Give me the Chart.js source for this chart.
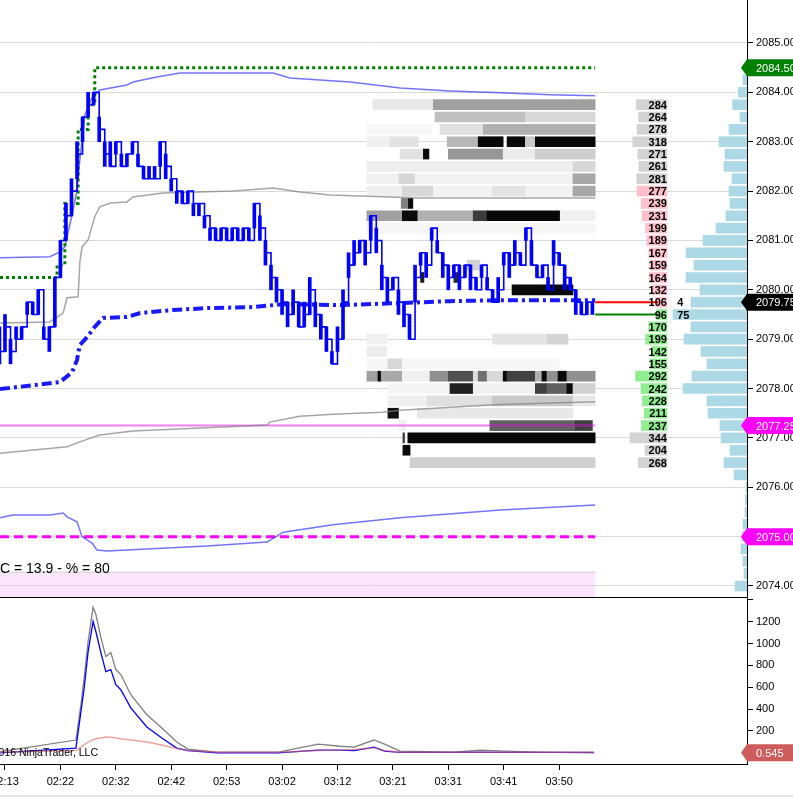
<!DOCTYPE html>
<html lang="en">
<head>
  <meta charset="UTF-8">
  <title>ES tick chart – order flow</title>
  <script src="https://cdn.jsdelivr.net/npm/chart.js"></script>
  <style>
    html, body {
      margin: 0;
      padding: 0;
      background: #fff;
      overflow: hidden;
    }
    body {
      position: relative;
      width: 793px;
      height: 797px;
      font-family: Arial, "Liberation Sans", sans-serif;
    }
    #mainBox { position: absolute; left: 0; top: 0; width: 793px; height: 597px; }
    #lowBox { position: absolute; left: 0; top: 597px; width: 793px; height: 200px; }
    #scroll { position: absolute; left: 0; top: 795px; width: 793px; height: 2px; background: #e4e4e4; }
  </style>
</head>
<body>
<div id="mainBox"><canvas id="mainChart" width="793" height="597"></canvas></div>
<div id="lowBox"><canvas id="lowChart" width="793" height="200"></canvas></div>
<div id="scroll"></div>

<script>
  // time axis: one slot per bar group, labels every 10 slots
  const timeLabels = ['02:13', '02:22', '02:32', '02:42', '02:53', '03:02', '03:12', '03:21', '03:31', '03:41', '03:50'];
  const X_MIN = -0.9, X_MAX = 133.9;

  // last price per slot, slot -1 .. 106
  const priceBars = [
    2078.75, 2079.25, 2078.75, 2079.0, 2079.25, 2079.75, 2079.5, 2080.0, 2079.0, 2079.25,
    2080.25, 2081.0, 2081.5, 2082.0, 2082.75, 2083.5, 2083.75, 2084.0, 2083.25, 2082.75,
    2082.5, 2083.0, 2082.5, 2082.75, 2083.0, 2082.5, 2082.25, 2082.25, 2082.25, 2083.0,
    2082.5, 2082.25, 2082.0, 2081.75, 2082.0, 2081.75, 2081.75, 2081.5, 2081.25, 2081.0,
    2081.25, 2081.0, 2081.25, 2081.0, 2081.25, 2081.0, 2081.75, 2081.25, 2080.75, 2080.25,
    2080.0, 2079.75, 2079.5, 2079.75, 2079.25, 2079.5, 2080.0, 2079.5, 2079.25, 2079.0,
    2078.5, 2079.0, 2079.75, 2080.5, 2080.75, 2081.0, 2080.75, 2081.5, 2081.0, 2080.25,
    2080.0, 2080.25, 2079.75, 2079.5, 2079.0, 2080.25, 2080.75, 2080.5, 2081.25, 2080.75,
    2080.5, 2080.25, 2080.5, 2080.25, 2080.5, 2080.25, 2080.0, 2080.5, 2080.0, 2079.75,
    2080.0, 2080.75, 2080.5, 2080.75, 2080.5, 2081.25, 2080.5, 2080.25, 2080.5, 2080.0,
    2080.75, 2080.5, 2080.25, 2080.0, 2079.75, 2079.5, 2079.75, 2079.75
  ];
  // traded range per slot
  const priceLow = [
    2078.5, 2078.75, 2078.5, 2079.0, 2079.0, 2079.5, 2079.5, 2079.5, 2079.0, 2078.75,
    2079.25, 2080.25, 2081.0, 2081.5, 2082.25, 2083.0, 2083.5, 2083.75, 2083.0, 2082.5,
    2082.5, 2082.75, 2082.5, 2082.5, 2082.75, 2082.5, 2082.25, 2082.25, 2082.25, 2082.5,
    2082.25, 2082.0, 2081.75, 2081.75, 2081.75, 2081.5, 2081.5, 2081.25, 2081.0, 2081.0,
    2081.0, 2081.0, 2081.0, 2081.0, 2081.0, 2081.0, 2081.25, 2081.0, 2080.5, 2080.0,
    2079.75, 2079.5, 2079.25, 2079.5, 2079.25, 2079.25, 2079.5, 2079.25, 2079.0, 2078.75,
    2078.5, 2078.75, 2079.0, 2080.25, 2080.5, 2080.75, 2080.5, 2081.0, 2080.75, 2080.0,
    2079.75, 2080.0, 2079.5, 2079.25, 2079.0, 2079.75, 2080.5, 2080.25, 2081.0, 2080.75,
    2080.25, 2080.0, 2080.25, 2080.0, 2080.25, 2080.0, 2080.0, 2080.25, 2080.0, 2079.75,
    2079.75, 2080.5, 2080.25, 2080.5, 2080.5, 2081.0, 2080.5, 2080.25, 2080.25, 2080.0,
    2080.5, 2080.5, 2080.0, 2080.0, 2079.5, 2079.5, 2079.5, 2079.5
  ];
  const priceHigh = [
    2079.25, 2079.5, 2079.0, 2079.25, 2079.25, 2079.75, 2079.75, 2080.0, 2079.25, 2079.25,
    2080.25, 2081.0, 2081.75, 2082.25, 2083.0, 2083.5, 2084.0, 2084.0, 2083.5, 2083.0,
    2083.0, 2083.0, 2082.75, 2082.75, 2083.0, 2082.75, 2082.5, 2082.5, 2082.5, 2083.0,
    2082.75, 2082.25, 2082.0, 2082.0, 2082.0, 2081.75, 2081.75, 2081.5, 2081.25, 2081.25,
    2081.25, 2081.25, 2081.25, 2081.25, 2081.25, 2081.25, 2081.75, 2081.5, 2081.0, 2080.5,
    2080.25, 2080.0, 2079.75, 2080.0, 2079.75, 2079.75, 2080.25, 2079.75, 2079.5, 2079.25,
    2078.75, 2079.25, 2080.0, 2080.75, 2081.0, 2081.0, 2081.0, 2081.5, 2081.25, 2080.5,
    2080.25, 2080.25, 2080.0, 2079.75, 2079.5, 2080.5, 2080.75, 2080.75, 2081.25, 2081.0,
    2080.75, 2080.5, 2080.5, 2080.5, 2080.5, 2080.5, 2080.25, 2080.5, 2080.25, 2080.0,
    2080.25, 2080.75, 2080.75, 2081.0, 2080.75, 2081.25, 2081.0, 2080.5, 2080.5, 2080.25,
    2081.0, 2080.75, 2080.5, 2080.25, 2080.0, 2079.75, 2079.75, 2079.75
  ];

  // session high stop line (green dotted)
  const highSlots = [-0.9, 9.4, 10.8, 13.2, 15.0, 16.2, 106.5];
  const highVals  = [2080.25, 2080.5, 2081.75, 2083.25, 2083.75, 2084.5, 2084.5];

  // VWAP (blue dash-dot)
  const vwapSlots = [-0.9, 9.9, 10.8, 12.1, 13.0, 13.5, 14.8, 16.2, 17.7, 22.0, 24.4, 30.3, 36.5, 44.8, 50.2, 61.0, 70.8, 80.3, 89.4, 106.5];
  const vwapVals  = [2077.99, 2078.13, 2078.21, 2078.33, 2078.58, 2078.88, 2079.04, 2079.25, 2079.43, 2079.45, 2079.53, 2079.59, 2079.63, 2079.65, 2079.71, 2079.69, 2079.73, 2079.77, 2079.79, 2079.79];

  // outer bands (blue, translucent)
  const upBlueSlots = [-0.9, 8.1, 9.9, 10.8, 11.2, 12.1, 13.0, 13.5, 14.4, 15.7, 17.1, 22.0, 23.1, 27.4, 31.6, 48.4, 51.4, 62.3, 71.3, 80.3, 89.4, 98.4, 106.5];
  const upBlueVals  = [2080.65, 2080.67, 2080.77, 2080.87, 2081.07, 2081.52, 2082.02, 2082.63, 2083.54, 2083.89, 2084.05, 2084.15, 2084.21, 2084.31, 2084.39, 2084.39, 2084.29, 2084.21, 2084.09, 2084.03, 2083.99, 2083.95, 2083.93];
  const loBlueSlots = [-0.9, 1.4, 8.1, 10.5, 11.2, 13.0, 13.9, 15.7, 16.6, 18.4, 29.2, 36.5, 47.3, 50.2, 59.2, 71.3, 89.4, 106.5];
  const loBlueVals  = [2075.38, 2075.44, 2075.44, 2075.48, 2075.40, 2075.30, 2075.00, 2074.87, 2074.73, 2074.71, 2074.77, 2074.81, 2074.89, 2075.09, 2075.24, 2075.38, 2075.54, 2075.64];

  // inner bands (gray)
  const upGraySlots = [-0.9, 8.1, 10.5, 11.2, 13.2, 13.5, 13.9, 15.0, 16.2, 17.1, 19.0, 22.0, 23.1, 28.5, 41.2, 48.4, 53.2, 58.7, 69.5, 74.9, 106.5];
  const upGrayVals  = [2079.33, 2079.35, 2079.53, 2079.84, 2079.86, 2080.55, 2080.87, 2081.01, 2081.48, 2081.68, 2081.76, 2081.78, 2081.88, 2081.96, 2082.0, 2082.06, 2081.98, 2081.92, 2081.88, 2081.86, 2081.86];
  const loGraySlots = [-0.9, 11.2, 13.5, 17.1, 23.1, 35.2, 47.3, 47.8, 53.2, 59.2, 68.2, 71.3, 82.1, 88.1, 100.2, 106.5];
  const loGrayVals  = [2076.69, 2076.82, 2076.92, 2077.06, 2077.14, 2077.20, 2077.26, 2077.32, 2077.44, 2077.48, 2077.52, 2077.56, 2077.63, 2077.67, 2077.71, 2077.73];

  // horizontal levels
  const levelPrice = 2077.25;
  const targetPrice = 2075.0;
  const zoneTop = 2074.28;
  const askPrice = 2079.75, bidPrice = 2079.5;
  const insideSizes = [4, 75];
  const studyText = 'C = 13.9 - % = 80';

  // order book history cells: price, from slot, to slot, gray shade
  const heatPrice = [
    2083.75, 2083.75,
    2083.5, 2083.5,
    2083.25, 2083.25, 2083.25,
    2083.0, 2083.0, 2083.0, 2083.0, 2083.0, 2083.0, 2083.0,
    2082.75, 2082.75, 2082.75, 2082.75, 2082.75,
    2082.5, 2082.5,
    2082.25, 2082.25, 2082.25, 2082.25,
    2082.0, 2082.0, 2082.0, 2082.0, 2082.0, 2082.0,
    2081.75, 2081.75,
    2081.5, 2081.5, 2081.5, 2081.5, 2081.5, 2081.5,
    2081.25,
    2080.5,
    2080.25, 2080.25,
    2080.0,
    2079.0, 2079.0, 2079.0,
    2078.75,
    2078.5, 2078.5, 2078.5,
    2078.25, 2078.25, 2078.25, 2078.25, 2078.25, 2078.25, 2078.25, 2078.25,
    2078.25, 2078.25, 2078.25, 2078.25, 2078.25, 2078.25, 2078.25, 2078.25,
    2078.0, 2078.0, 2078.0, 2078.0, 2078.0, 2078.0, 2078.0,
    2077.75, 2077.75, 2077.75, 2077.75,
    2077.5, 2077.5,
    2077.25, 2077.25, 2077.25,
    2077.0, 2077.0,
    2076.75,
    2076.5
  ];
  const heatFrom = [
    66.4, 77.3,
    77.6, 93.9,
    65.3, 78.5, 86.3,
    65.3, 69.5, 79.8, 85.4, 90.6, 93.9, 95.7,
    71.3, 75.5, 80.0, 89.9, 95.7,
    65.3, 102.5,
    65.3, 71.1, 74.0, 102.5,
    65.3, 71.7, 77.3, 87.9, 94.0, 102.5,
    71.5, 72.8,
    65.3, 71.7, 74.5, 84.5, 87.0, 100.2,
    65.3,
    83.4,
    75.0, 81.0,
    91.5,
    65.3, 88.0, 97.8,
    65.3,
    65.3, 69.1, 71.7,
    65.3, 67.3, 67.9, 71.7, 76.7, 80.0, 84.5, 85.4,
    87.0, 89.9, 90.6, 95.7, 96.9, 97.8, 99.8, 101.4,
    69.1, 80.3, 84.5, 95.7, 97.8, 101.4, 102.5,
    69.1, 76.2, 87.9, 102.5,
    69.1, 74.4,
    71.1, 87.5, 102.9,
    71.8, 72.7,
    71.8,
    73.1
  ];
  const heatTo = [
    77.3, 106.5,
    93.9, 106.5,
    77.0, 86.3, 106.5,
    69.5, 74.6, 85.4, 89.9, 93.9, 95.7, 106.5,
    75.5, 76.5, 89.9, 95.7, 106.5,
    102.5, 106.5,
    71.1, 74.0, 102.5, 106.5,
    71.7, 77.3, 87.9, 94.0, 102.5, 106.5,
    72.8, 73.6,
    71.7, 74.5, 84.5, 87.0, 100.2, 106.5,
    106.5,
    85.7,
    75.6, 81.8,
    102.5,
    69.0, 97.8, 101.6,
    68.9,
    69.1, 71.7, 100.0,
    67.3, 67.9, 71.7, 76.7, 80.0, 84.5, 85.4, 87.0,
    89.9, 90.6, 95.7, 96.9, 97.8, 99.8, 101.4, 106.5,
    80.3, 84.5, 95.7, 97.8, 101.4, 102.5, 106.5,
    76.2, 87.9, 102.5, 106.5,
    71.0, 102.5,
    72.4, 102.9, 106.0,
    72.1, 106.5,
    73.1,
    106.5
  ];
  const heatShade = [
    232, 160,
    192, 216,
    246, 224, 176,
    240, 226, 184, 8, 8, 200, 8,
    226, 10, 150, 235, 205,
    238, 215,
    240, 215, 242, 168,
    240, 215, 242, 228, 242, 168,
    128, 10,
    160, 10, 176, 60, 8, 240,
    246,
    210,
    30, 40,
    10,
    240, 228, 212,
    236,
    246, 216, 246,
    160, 10, 168, 240, 144, 80, 220, 112,
    216, 10, 64, 176, 10, 144, 10, 144,
    244, 32, 240, 64, 96, 10, 208,
    240, 224, 200, 232,
    16, 232,
    240, 96, 64,
    60, 8,
    10,
    208
  ];

  // depth of market ladder
  const domPrice = [2083.75, 2083.5, 2083.25, 2083.0, 2082.75, 2082.5, 2082.25, 2082.0, 2081.75, 2081.5,
                    2081.25, 2081.0, 2080.75, 2080.5, 2080.25, 2080.0, 2079.75, 2079.5, 2079.25, 2079.0,
                    2078.75, 2078.5, 2078.25, 2078.0, 2077.75, 2077.5, 2077.25, 2077.0, 2076.75, 2076.5];
  const domSize  = [284, 264, 278, 318, 271, 261, 281, 277, 239, 231,
                    199, 189, 167, 159, 164, 132, 106, 96, 170, 199,
                    142, 155, 292, 242, 228, 211, 237, 344, 204, 268];
  const domSide  = ['far', 'far', 'far', 'far', 'far', 'far', 'far', 'ask', 'ask', 'ask',
                    'ask', 'ask', 'ask', 'ask', 'ask', 'ask', 'ask', 'bid', 'bid', 'bid',
                    'bid', 'bid', 'bid', 'bid', 'bid', 'bid', 'bid', 'far', 'far', 'far'];
  const sideColors = { far: '#d3d3d3', ask: '#ffc0cb', bid: '#90ee90' };

  // volume profile
  const vpPrice = [2084.25, 2084.0, 2083.75, 2083.5, 2083.25, 2083.0, 2082.75, 2082.5, 2082.25, 2082.0,
                   2081.75, 2081.5, 2081.25, 2081.0, 2080.75, 2080.5, 2080.25, 2080.0, 2079.75, 2079.5,
                   2079.25, 2079.0, 2078.75, 2078.5, 2078.25, 2078.0, 2077.75, 2077.5, 2077.25, 2077.0,
                   2076.75, 2076.5, 2076.25, 2076.0, 2075.75, 2075.5, 2075.25, 2075.0, 2074.75, 2074.5,
                   2074.25, 2074.0];
  const vpVol   = [100, 220, 360, 175, 450, 700, 550, 575, 375, 450,
                   425, 525, 775, 1100, 1525, 1325, 1525, 1175, 1400, 1850,
                   1400, 1575, 1150, 1000, 1375, 1600, 1000, 975, 675, 650,
                   425, 575, 325, 25, 40, 50, 100, 125, 150, 100,
                   75, 300];

  // price tags on the right axis
  const tagPrice = [2084.5, 2079.75, 2077.25, 2075.0];
  const tagColor = ['#008000', '#000000', '#ff00ff', '#ff00ff'];

  // lower panel (three volatility style lines)
  const volSlots = [-0.9, 12.8, 13.7, 14.3, 15.0, 15.9, 16.4, 17.3, 18.2, 19.1, 20.0, 20.9, 22.7, 25.6, 28.3, 31.0,
                    33.0, 38.3, 49.3, 53.8, 56.5, 60.5, 63.0, 66.6, 68.5, 71.3, 81.2, 85.7, 90.4, 95.8, 106.3];
  const volGray  = [10, 117, 439, 690, 1019, 1332, 1268, 1056, 881, 918, 762, 716, 532, 348, 227, 99,
                    34, 6, 6, 52, 80, 60, 52, 117, 80, 15, 6, 25, 15, 6, 0];
  const volBlue  = [0, 43, 374, 595, 926, 1202, 1110, 917, 743, 761, 623, 577, 411, 236, 135, 43,
                    20, 0, 0, 15, 25, 25, 20, 52, 15, 3, 3, 5, 3, 3, 3];
  const volRed   = [5, 20, 52, 75, 98, 120, 128, 135, 144, 142, 135, 128, 117, 98, 71, 40,
                    20, 5, 5, 15, 22, 25, 30, 45, 20, 5, 5, 5, 5, 5, 5];
  const lastVol = '0.545';

  const FONT = 'Arial, "Liberation Sans", sans-serif';
  const pts = (xs, ys) => xs.map((x, i) => ({ x: x, y: ys[i] }));
  const flat = (y, x0, x1) => [{ x: x0, y: y }, { x: x1, y: y }];

  function drawTag(ctx, chart, y, text, bg) {
    const right = chart.chartArea.right;
    const h = 17;
    ctx.save();
    ctx.beginPath();
    ctx.moveTo(right - 6, y);
    ctx.lineTo(right, y - h / 2);
    ctx.lineTo(chart.width, y - h / 2);
    ctx.lineTo(chart.width, y + h / 2);
    ctx.lineTo(right, y + h / 2);
    ctx.closePath();
    ctx.fillStyle = bg;
    ctx.fill();
    ctx.fillStyle = '#fff';
    ctx.font = '11px ' + FONT;
    ctx.textAlign = 'left';
    ctx.textBaseline = 'middle';
    ctx.fillText(text, right + 9, y + 1);
    ctx.restore();
  }

  const mainOverlay = {
    id: 'mainOverlay',
    afterDatasetsDraw(chart) {
      const ctx = chart.ctx;
      const y = chart.scales.y, xd = chart.scales.xdom, x = chart.scales.x;
      ctx.save();
      // DOM numbers
      ctx.font = 'bold 11px ' + FONT;
      ctx.fillStyle = '#000';
      ctx.textAlign = 'right';
      ctx.textBaseline = 'middle';
      const domRight = xd.getPixelForValue(0);
      domPrice.forEach((p, i) => ctx.fillText(String(domSize[i]), domRight, y.getPixelForValue(p) + 1));
      // inside market sizes
      ctx.textAlign = 'left';
      ctx.fillText(String(insideSizes[0]), x.getPixelForValue(121.3), y.getPixelForValue(askPrice) + 1);
      ctx.fillText(String(insideSizes[1]), x.getPixelForValue(121.3), y.getPixelForValue(bidPrice) + 1);
      // study text
      ctx.font = '14px ' + FONT;
      ctx.fillText(studyText, chart.chartArea.left, y.getPixelForValue(2074.34));
      ctx.restore();
    },
    afterDraw(chart) {
      const y = chart.scales.y;
      tagPrice.forEach((p, i) => drawTag(chart.ctx, chart, y.getPixelForValue(p), p.toFixed(2), tagColor[i]));
    }
  };

  const lowOverlay = {
    id: 'lowOverlay',
    afterDraw(chart) {
      const ctx = chart.ctx, a = chart.chartArea;
      ctx.save();
      ctx.fillStyle = '#000';
      ctx.fillRect(0, a.top, a.right + 1, 1);
      ctx.font = '10.5px ' + FONT;
      ctx.textAlign = 'right';
      ctx.textBaseline = 'middle';
      ctx.fillText('\u00A92016 NinjaTrader, LLC', 98, chart.scales.y.getPixelForValue(0));
      ctx.restore();
      drawTag(ctx, chart, chart.scales.y.getPixelForValue(0), lastVol, '#cd5c5c');
    }
  };

  const lineBase = { pointRadius: 0, xAxisID: 'x', yAxisID: 'y', tension: 0 };

  new Chart(document.getElementById('mainChart'), {
    type: 'line',
    data: {
      datasets: [
        Object.assign({}, lineBase, { order: 0, data: priceBars.map((p, i) => ({ x: i - 1, y: p })), stepped: true, borderColor: '#0000ff', borderWidth: 1.6 }),
        {
          type: 'bar', order: 0, xAxisID: 'x', yAxisID: 'y', grouped: false,
          barThickness: 3, borderWidth: 0, backgroundColor: '#0000ff',
          data: priceLow.map((lo, i) => ({ x: i - 1, y: [lo, priceHigh[i]] }))
        },
        Object.assign({}, lineBase, { order: 1, data: pts(highSlots, highVals), stepped: true, borderColor: '#008000', borderWidth: 3, borderDash: [3, 3] }),
        Object.assign({}, lineBase, { order: 2, data: pts(vwapSlots, vwapVals), borderColor: 'rgba(0,0,255,0.9)', borderWidth: 4, borderDash: [10, 4, 3, 4] }),
        Object.assign({}, lineBase, { order: 3, data: pts(upBlueSlots, upBlueVals), borderColor: 'rgba(0,0,255,0.55)', borderWidth: 1.5 }),
        Object.assign({}, lineBase, { order: 3, data: pts(loBlueSlots, loBlueVals), borderColor: 'rgba(0,0,255,0.55)', borderWidth: 1.5 }),
        Object.assign({}, lineBase, { order: 3, data: pts(upGraySlots, upGrayVals), borderColor: 'rgba(128,128,128,0.7)', borderWidth: 1.5 }),
        Object.assign({}, lineBase, { order: 3, data: pts(loGraySlots, loGrayVals), borderColor: 'rgba(128,128,128,0.7)', borderWidth: 1.5 }),
        Object.assign({}, lineBase, { order: 4, data: flat(levelPrice, X_MIN, 106.5), borderColor: 'rgba(240,0,240,0.5)', borderWidth: 2 }),
        Object.assign({}, lineBase, { order: 4, data: flat(targetPrice, X_MIN, 106.5), borderColor: '#ff00ff', borderWidth: 3, borderDash: [9, 5] }),
        Object.assign({}, lineBase, { order: 4, data: flat(askPrice, 106.5, 117.9), borderColor: '#ff0000', borderWidth: 2 }),
        Object.assign({}, lineBase, { order: 4, data: flat(bidPrice, 106.5, 117.9), borderColor: '#008000', borderWidth: 2 }),
        Object.assign({}, lineBase, { order: 8, data: flat(zoneTop, X_MIN, 106.5), borderColor: '#cfcfcf', borderWidth: 1, fill: 'start', backgroundColor: 'rgba(250,190,245,0.4)' }),
        {
          type: 'bar', order: 9, indexAxis: 'y', xAxisID: 'x', yAxisID: 'y', grouped: false,
          barThickness: 10, borderWidth: 0,
          data: heatPrice.map((p, i) => ({ x: [heatFrom[i], heatTo[i]], y: p })),
          backgroundColor: heatShade.map(s => 'rgb(' + s + ',' + s + ',' + s + ')')
        },
        {
          type: 'bar', order: 9, indexAxis: 'y', xAxisID: 'xdom', yAxisID: 'y', grouped: false,
          barThickness: 10, borderWidth: 0,
          data: domPrice.map((p, i) => ({ x: domSize[i], y: p })),
          backgroundColor: domSide.map(s => sideColors[s])
        },
        {
          type: 'bar', order: 9, indexAxis: 'y', xAxisID: 'xvp', yAxisID: 'y', grouped: false,
          barThickness: 10, borderWidth: 0,
          data: vpPrice.map((p, i) => ({ x: vpVol[i], y: p })),
          backgroundColor: '#add8e6'
        }
      ]
    },
    options: {
      responsive: false,
      animation: false,
      devicePixelRatio: 1,
      events: [],
      layout: { padding: 0, autoPadding: false },
      plugins: { legend: { display: false }, tooltip: { enabled: false } },
      scales: {
        x: { type: 'linear', display: false, min: X_MIN, max: X_MAX, offset: false, grid: { offset: false } },
        xdom: { type: 'linear', axis: 'x', display: false, reverse: true, min: -744, max: 6201, offset: false },
        xvp: { type: 'linear', axis: 'x', display: false, reverse: true, min: 0, max: 18675, offset: false },
        y: {
          type: 'linear', position: 'right', min: 2073.777, max: 2085.871, offset: false,
          ticks: { stepSize: 1, includeBounds: false, padding: 3, color: '#000', font: { family: FONT, size: 11 },
                   callback: v => Number(v).toFixed(2) },
          grid: { offset: false, color: '#dadada', tickLength: 6, tickColor: '#000' },
          border: { display: true, color: '#000' },
          afterFit: s => { s.width = 46; s.paddingTop = 0; s.paddingBottom = 0; }
        }
      }
    },
    plugins: [mainOverlay]
  });

  new Chart(document.getElementById('lowChart'), {
    type: 'line',
    data: {
      datasets: [
        Object.assign({}, lineBase, { data: pts(volSlots, volRed), borderColor: 'rgba(230,100,100,0.6)', borderWidth: 1.5 }),
        Object.assign({}, lineBase, { data: pts(volSlots, volBlue), borderColor: '#0000ff', borderWidth: 1.3 }),
        Object.assign({}, lineBase, { data: pts(volSlots, volGray), borderColor: '#808080', borderWidth: 1.3 })
      ]
    },
    options: {
      responsive: false,
      animation: false,
      devicePixelRatio: 1,
      events: [],
      layout: { padding: 0, autoPadding: false },
      plugins: { legend: { display: false }, tooltip: { enabled: false } },
      scales: {
        x: {
          type: 'linear', position: 'bottom', min: X_MIN, max: X_MAX, offset: false,
          ticks: { stepSize: 10, includeBounds: false, autoSkip: false, maxRotation: 0, padding: 5, color: '#000', font: { family: FONT, size: 11 },
                   callback: v => timeLabels[Math.round(v / 10)] || '' },
          afterBuildTicks: s => { s.ticks = s.ticks.filter(t => t.value >= 0 && t.value <= 100); },
          grid: { offset: false, drawOnChartArea: false, tickLength: 6, tickColor: '#000' },
          border: { display: true, color: '#000' },
          afterFit: s => { s.height = 33; s.paddingLeft = 0; s.paddingRight = 0; }
        },
        y: {
          type: 'linear', position: 'right', min: -102.5, max: 1426, offset: false,
          ticks: { stepSize: 200, includeBounds: false, padding: 3, color: '#000', font: { family: FONT, size: 11 },
                   callback: v => (v > 0 && v < 1400) ? String(v) : '' },
          grid: { offset: false, drawOnChartArea: false, tickLength: 6, tickColor: '#000' },
          border: { display: true, color: '#000' },
          afterFit: s => { s.width = 46; s.paddingTop = 0; s.paddingBottom = 0; }
        }
      }
    },
    plugins: [lowOverlay]
  });
</script>
</body>
</html>
